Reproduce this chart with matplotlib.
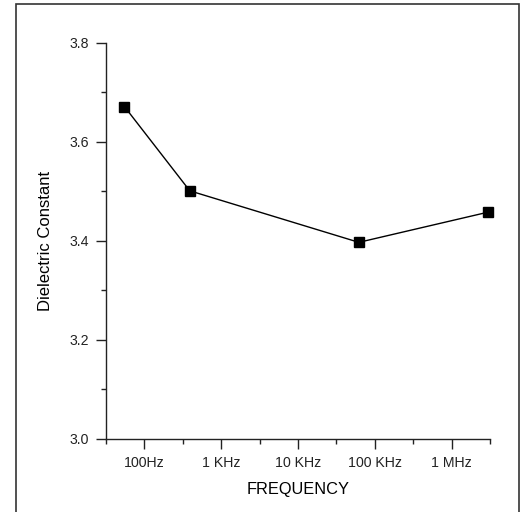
import matplotlib
matplotlib.use("Agg")
import matplotlib.pyplot as plt
from matplotlib.patches import Rectangle
from matplotlib.ticker import FixedLocator, NullFormatter
import numpy as np

plt.rcParams['font.family'] = ['Liberation Sans', 'DejaVu Sans']

# Data (frequency in Hz, dielectric constant)
freq_hz = [55, 390, 62000, 3000000]
dielectric = [3.671, 3.501, 3.397, 3.458]

tick_freqs = [1e2, 1e3, 1e4, 1e5, 1e6]
tick_labels = ["100Hz", "1 KHz", "10 KHz", "100 KHz", "1 MHz"]
minor_freqs = [10**1.5, 10**2.5, 10**3.5, 10**4.5, 10**5.5, 10**6.5]
y_major = [3.0, 3.2, 3.4, 3.6, 3.8]
y_minor = [3.1, 3.3, 3.5, 3.7]

fig = plt.figure(figsize=(5.25, 5.12), dpi=100)
ax = fig.add_axes([106/525, 1-439/512, (490-106)/525, (439-42.7)/512])

ax.plot(freq_hz, dielectric, color='black', lw=1.0, marker='s', ms=6.5,
        mfc='black', mec='black', clip_on=False)

ax.set_xscale('log')
ax.set_xlim(10**1.5, 10**6.5)
ax.set_ylim(3.0, 3.8)

ax.xaxis.set_major_locator(FixedLocator(tick_freqs))
ax.set_xticklabels(tick_labels)
ax.xaxis.set_minor_locator(FixedLocator(minor_freqs))
ax.xaxis.set_minor_formatter(NullFormatter())

ax.yaxis.set_major_locator(FixedLocator(y_major))
ax.set_yticklabels([f"{v:.1f}" for v in y_major])
ax.yaxis.set_minor_locator(FixedLocator(y_minor))

for s in ['top', 'right']:
    ax.spines[s].set_visible(False)
for s in ['left', 'bottom']:
    ax.spines[s].set_linewidth(1.0)
    ax.spines[s].set_color('#222222')

ax.tick_params(which='major', direction='out', length=7, width=1.0,
               labelsize=10.2, colors='#222222', pad=5)
ax.tick_params(which='minor', direction='out', length=3.5, width=1.0,
               colors='#222222')

ax.set_xlabel("FREQUENCY", fontsize=11.8, labelpad=9)
ax.set_ylabel("Dielectric Constant", fontsize=12, labelpad=12)

# outer frame
fig.add_artist(Rectangle((16/525, -0.05), (519-16)/525, 1.05 - 3.5/512,
                         transform=fig.transFigure, fill=False,
                         edgecolor='#333333', lw=1.2))

fig.savefig("out.png", dpi=100)
